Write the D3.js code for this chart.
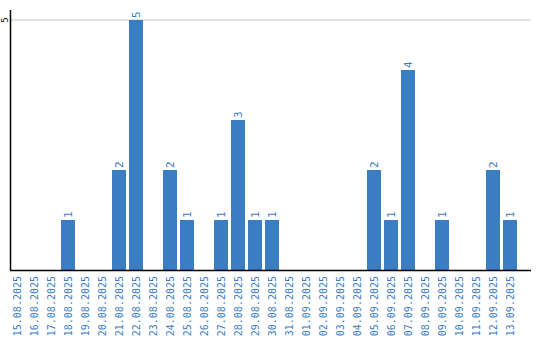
<!DOCTYPE html>
<html>
<head>
<script src="https://cdnjs.cloudflare.com/ajax/libs/d3/7.8.5/d3.min.js"></script>
<style>
  body { margin: 0; background: #fff; }
</style>
</head>
<body>
<div id="chart"></div>
<script>
const dates = ["15.08.2025","16.08.2025","17.08.2025","18.08.2025","19.08.2025","20.08.2025",
  "21.08.2025","22.08.2025","23.08.2025","24.08.2025","25.08.2025","26.08.2025","27.08.2025",
  "28.08.2025","29.08.2025","30.08.2025","31.08.2025","01.09.2025","02.09.2025","03.09.2025",
  "04.09.2025","05.09.2025","06.09.2025","07.09.2025","08.09.2025","09.09.2025","10.09.2025",
  "11.09.2025","12.09.2025","13.09.2025"];
const counts = [0,0,0,1,0,0,2,5,0,2,1,0,1,3,1,1,0,0,0,0,0,2,1,4,0,1,0,0,2,1];
const yTicks = [5];

const blue = "#3b7dc1";
const svg = d3.select("#chart").append("svg")
  .attr("width", 540).attr("height", 340);

const x = d3.scaleBand().domain(dates).range([10, 517]).paddingInner(3 / 17).paddingOuter(0);
const y = d3.scaleLinear().domain([0, 5]).range([270, 20]);

// gridline
svg.selectAll(".grid").data(yTicks).enter().append("line")
  .attr("x1", 11).attr("x2", 531)
  .attr("y1", d => y(d)).attr("y2", d => y(d))
  .attr("stroke", "#c8c8c8").attr("stroke-width", 1);

// bars
svg.selectAll(".bar").data(dates).enter().append("rect")
  .attr("x", d => x(d))
  .attr("y", (d, i) => y(counts[i]))
  .attr("width", x.bandwidth())
  .attr("height", (d, i) => y(0) - y(counts[i]))
  .attr("fill", blue);

// value labels
svg.selectAll(".val").data(dates.filter((d, i) => counts[i] > 0)).enter().append("text")
  .attr("transform", d => `translate(${x(d) + x.bandwidth() / 2 + 4},${y(counts[dates.indexOf(d)]) - 2}) rotate(-90)`)
  .attr("font-family", "DejaVu Sans Mono")
  .attr("font-size", 11)
  .attr("fill", blue)
  .text(d => counts[dates.indexOf(d)]);

// axes lines
svg.append("line").attr("x1", 10.5).attr("x2", 10.5).attr("y1", 10).attr("y2", 270)
  .attr("stroke", "#000").attr("stroke-width", 1.5);
svg.append("line").attr("x1", 10).attr("x2", 531).attr("y1", 270.5).attr("y2", 270.5)
  .attr("stroke", "#000").attr("stroke-width", 1.5);

// y tick labels
svg.selectAll(".ytick").data(yTicks).enter().append("text")
  .attr("transform", d => `translate(8,${y(d)}) rotate(-90)`)
  .attr("text-anchor", "middle")
  .attr("font-family", "DejaVu Sans")
  .attr("font-size", 8)
  .attr("fill", "#000")
  .text(d => d);

// x tick labels
svg.selectAll(".xtick").data(dates).enter().append("text")
  .attr("transform", d => `translate(${x(d) + x.bandwidth() / 2 + 4},276) rotate(-90)`)
  .attr("text-anchor", "end")
  .attr("font-family", "DejaVu Sans Mono")
  .attr("font-size", 10)
  .attr("fill", blue)
  .text(d => d);
</script>
</body>
</html>
